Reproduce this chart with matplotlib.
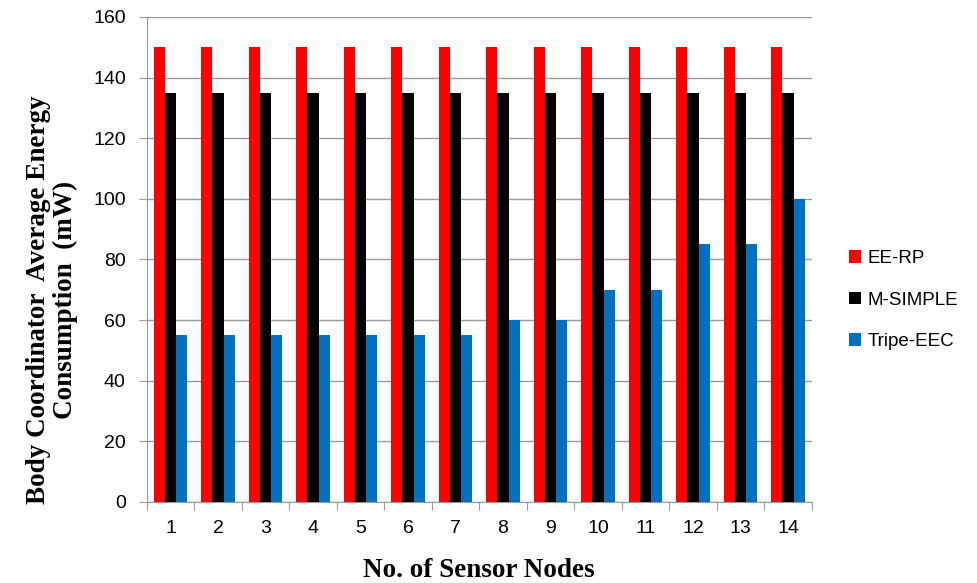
import matplotlib.pyplot as plt
import numpy as np

# Energy consumption per protocol
nodes = list(range(1, 15))
ee_rp = [150] * 14
m_simple = [135] * 14
tripe_eec = [55, 55, 55, 55, 55, 55, 55, 60, 60, 70, 70, 85, 85, 100]

series = [("EE-RP", ee_rp, "#ff0000"),
          ("M-SIMPLE", m_simple, "#000000"),
          ("Tripe-EEC", tripe_eec, "#0070c0")]

plt.rcParams.update({"font.family": "Liberation Sans"})

fig = plt.figure(figsize=(9.78, 5.83), dpi=100)
ax = fig.add_axes([0.150, 0.139, 0.680, 0.832])

x = np.arange(len(nodes))
w = 0.235
for i, (name, vals, col) in enumerate(series):
    ax.bar(x + (i - 1) * w, vals, width=w, color=col, label=name, zorder=3)

ax.set_xlim(-0.5, len(nodes) - 0.5)
ax.set_ylim(0, 160)
ax.set_yticks(range(0, 161, 20))
ax.yaxis.grid(True, color="#9a9a9a", linewidth=1.0, zorder=0)

# ticks between categories, labels at centers
ax.set_xticks(np.arange(-0.5, len(nodes), 1.0))
ax.set_xticklabels([])
ax.set_xticks(x, minor=True)
ax.set_xticklabels([str(n) for n in nodes], minor=True, fontsize=14)
ax.tick_params(axis="x", which="minor", length=0, pad=13)
ax.tick_params(axis="x", which="major", length=6, color="#9a9a9a")
ax.tick_params(axis="y", length=6, color="#9a9a9a", labelsize=14, pad=9)

for s in ["top", "right"]:
    ax.spines[s].set_visible(False)
for s in ["left", "bottom"]:
    ax.spines[s].set_color("#9a9a9a")

ax.set_xlabel("No. of Sensor Nodes", fontfamily="Liberation Serif",
              fontweight="bold", fontsize=19.5, labelpad=15)
ax.set_ylabel("Body Coordinator  Average Energy\nConsumption  (mW)",
              fontfamily="Liberation Serif", fontweight="bold", fontsize=19.5,
              linespacing=1.05)
ax.yaxis.set_label_coords(-0.104, 0.416)

ax.legend(loc="center left", bbox_to_anchor=(1.03, 0.416), frameon=False,
          fontsize=13.5, handlelength=0.65, handleheight=0.65,
          handletextpad=0.35, labelspacing=1.3)

fig.savefig("out.png", dpi=100)
